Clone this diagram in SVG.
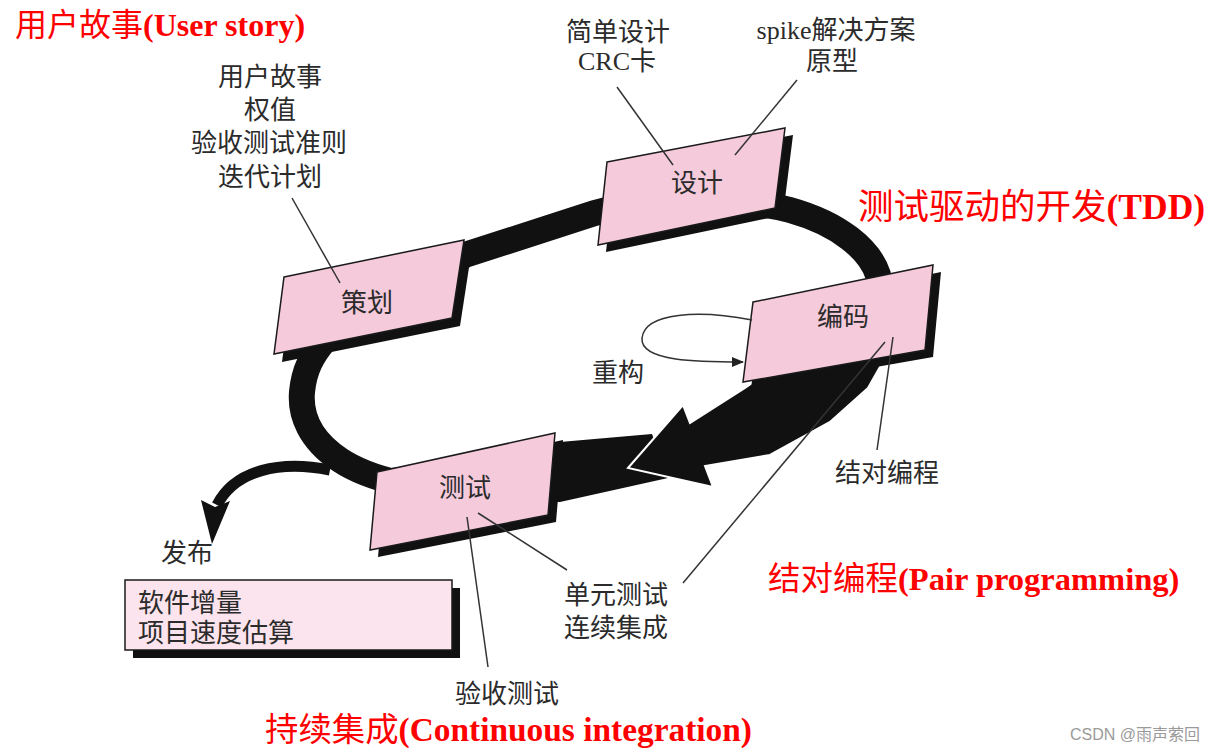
<svg xmlns="http://www.w3.org/2000/svg" width="1214" height="751" viewBox="0 0 1214 751">
<style>
.lbl{font-family:"Liberation Sans","Noto Sans CJK SC",sans-serif;font-size:26px;fill:#2b2b2b;text-anchor:middle}
.lbls{font-family:"Liberation Serif","Noto Sans CJK SC",serif;font-size:26px;fill:#2b2b2b;text-anchor:middle}
.box{fill:#f5cadb;stroke:#1a1a1a;stroke-width:1.5}
.shadow{fill:#111}
.title{fill:#ff0000}
.cjk{font-family:"Noto Sans CJK SC",sans-serif}
.lat{font-family:"Liberation Serif",serif;font-weight:bold}
.leader{stroke:#333;stroke-width:1.5;fill:none}
</style>
<defs>
<marker id="ah" markerWidth="12" markerHeight="10" refX="11" refY="5" orient="auto" markerUnits="userSpaceOnUse">
<path d="M0,0 L12,5 L0,10 Z" fill="#222"/>
</marker>
</defs>
<rect width="1214" height="751" fill="#fff"/>

<g id="connectors">
<path d="M470 492 C420 490 370 480 340 460 C310 440 300 415 302 392 C304 370 312 355 325 340 L465 255 L595 213 C650 197 740 197 790 210 C840 224 870 250 878 275 C885 300 875 325 860 345" fill="none" stroke="#111" stroke-width="26"/>
<polygon points="375,470 470,458 560,442 652,434 668,478 560,502 460,500 375,497" fill="#111"/>
<polygon points="835,325 745,388 690,423 683,405 628,468 713,487 705,466 770,455 830,422 868,388 885,358 880,330" fill="#111" stroke="#fff" stroke-width="2" stroke-linejoin="miter"/>
<path d="M330 470 C280 460 235 470 217 505" fill="none" stroke="#111" stroke-width="11"/>
<polygon points="201,500 215,507 230,501 212,544" fill="#111"/>
</g>

<g id="node-plan">
<polygon class="shadow" points="292,285 472,248 460,326 282,362"/>
<polygon class="box" points="284,277 464,240 452,318 274,354"/>
<text class="lbl" x="367" y="312">策划</text>
</g>
<g id="node-design">
<polygon class="shadow" points="615,169 793,135 783,215 606,252"/>
<polygon class="box" points="607,162 785,128 775,208 598,245"/>
<text class="lbl" x="697" y="192">设计</text>
</g>
<g id="node-code">
<polygon class="shadow" points="761,309 941,272 933,357 751,389"/>
<polygon class="box" points="753,302 933,265 925,350 743,382"/>
<text class="lbl" x="843" y="326">编码</text>
</g>
<g id="node-test">
<polygon class="shadow" points="385,479 563,440 556,522 378,557"/>
<polygon class="box" points="377,472 555,433 548,515 370,550"/>
<text class="lbl" x="465" y="497">测试</text>
</g>

<g id="node-release">
<rect x="133" y="588" width="327" height="70" fill="#111"/>
<rect x="125" y="580" width="327" height="70" fill="#fbe4ed" stroke="#1a1a1a" stroke-width="1.5"/>
<text class="lbl" x="138" y="612" style="text-anchor:start">软件增量</text>
<text class="lbl" x="138" y="642" style="text-anchor:start">项目速度估算</text>
</g>

<g id="leaders">
<line class="leader" x1="292" y1="198" x2="340" y2="283"/>
<line class="leader" x1="617" y1="87" x2="673" y2="165"/>
<line class="leader" x1="797" y1="80" x2="735" y2="155"/>
<line class="leader" x1="893" y1="337" x2="877" y2="450"/>
<line class="leader" x1="885" y1="342" x2="683" y2="583"/>
<line class="leader" x1="467" y1="517" x2="488" y2="667"/>
<line class="leader" x1="478" y1="513" x2="567" y2="570"/>
<path class="leader" d="M752 320 C700 310 645 312 642 338 C640 362 700 362 743 362" stroke="#222" stroke-width="2" marker-end="url(#ah)"/>
</g>

<g id="labels">
<text class="lbl" x="270" y="86">用户故事</text>
<text class="lbl" x="270" y="119">权值</text>
<text class="lbl" x="269" y="152">验收测试准则</text>
<text class="lbl" x="270" y="186">迭代计划</text>
<text class="lbl" x="618" y="41">简单设计</text>
<text class="lbls" x="617" y="70">CRC卡</text>
<text class="lbls" x="836" y="39">spike解决方案</text>
<text class="lbl" x="832" y="70">原型</text>
<text class="lbl" x="618" y="382">重构</text>
<text class="lbl" x="887" y="482">结对编程</text>
<text class="lbl" x="616" y="604">单元测试</text>
<text class="lbl" x="616" y="637">连续集成</text>
<text class="lbl" x="507" y="703">验收测试</text>
<text class="lbl" x="187" y="562">发布</text>
</g>

<g id="titles">
<text class="title" x="15" y="36" font-size="32"><tspan class="cjk">用户故事</tspan><tspan class="lat">(User story)</tspan></text>
<text class="title" x="858" y="219" font-size="35.5"><tspan class="cjk">测试驱动的开发</tspan><tspan class="lat">(TDD)</tspan></text>
<text class="title" x="768" y="590" font-size="32.5"><tspan class="cjk">结对编程</tspan><tspan class="lat">(Pair programming)</tspan></text>
<text class="title" x="265" y="741" font-size="33.4"><tspan class="cjk">持续集成</tspan><tspan class="lat">(Continuous integration)</tspan></text>
</g>
<text x="1200" y="740" font-family="Liberation Sans, Noto Sans CJK SC, sans-serif" font-size="16" fill="#9a9a9a" text-anchor="end">CSDN @雨声萦回</text>
</svg>
